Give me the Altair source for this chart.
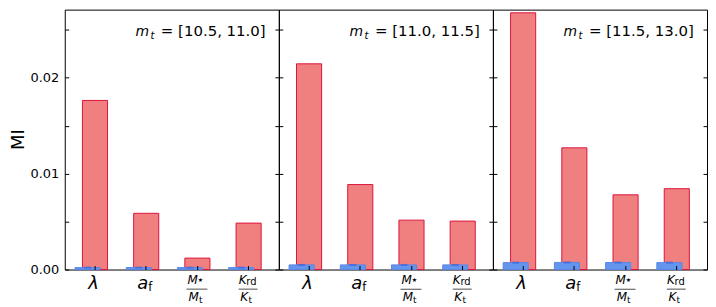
import altair as alt
import pandas as pd

# ---------------- data ----------------
categories = ["lambda", "a_f", "Mstar_Mt", "Krd_Kt"]
mass_bins = ["[10.5, 11.0]", "[11.0, 11.5]", "[11.5, 13.0]"]
mi_true = [
    [0.01763, 0.00586, 0.00119, 0.00484],
    [0.02145, 0.00886, 0.00515, 0.00505],
    [0.02677, 0.01269, 0.00779, 0.00843],
]
mi_shuffled = [
    [0.00020, 0.00020, 0.00020, 0.00020],
    [0.00048, 0.00048, 0.00048, 0.00048],
    [0.00072, 0.00074, 0.00073, 0.00072],
]
y_tick_values = [0.0, 0.005, 0.01, 0.015, 0.02, 0.025]
x_tick_values = [0, 1, 2, 3]
label_main = ["λ", "a", "M", "K"]
label_sub = ["", "f", "★", "rd"]
label_den = ["", "", "M", "K"]
label_den_sub = ["", "", "t", "t"]
y_title = ["MI"]
annot_var = "m"
annot_sub = "t"

# ---------------- style ----------------
FONT = "DejaVu Sans"
W, H = 215, 261
YMAX = 0.0271
XDOM = [-0.58, 3.6]
RED_FILL, RED_EDGE = "#F08080", "#DC143C"
BLUE_FILL, BLUE_EDGE, BLUE_ERR = "#6495ED", "#5b86e5", "#3d63d8"


def panel(p):
    df = pd.DataFrame({
        "idx": list(range(len(categories))),
        "cat": categories,
        "red": mi_true[p],
        "blue": mi_shuffled[p],
    })
    base = alt.Chart(df)
    xs = alt.Scale(domain=XDOM, nice=False, zero=False)
    ys = alt.Scale(domain=[0, YMAX], nice=False)

    left_axis = dict(orient="left", values=y_tick_values, offset=-4, tickSize=4,
                     tickColor="black", tickWidth=1, domain=False, grid=False,
                     zindex=1, labels=(p == 0), title="")
    if p == 0:
        left_axis.update(
            labelExpr="round(datum.value*200) % 2 == 0 ? format(datum.value, '.2f') : ''",
            labelFont=FONT, labelFontSize=13, labelColor="black", labelPadding=6)

    red = base.transform_calculate(
        x0="datum.idx - 0.235", x1="datum.idx + 0.255"
    ).mark_bar(color=RED_FILL, stroke=RED_EDGE, strokeWidth=1).encode(
        x=alt.X("x0:Q", scale=xs,
                axis=alt.Axis(orient="bottom", values=x_tick_values, labels=False,
                              title="", offset=-4, tickSize=4, tickColor="black",
                              domain=False, grid=False, zindex=1)),
        x2="x1:Q",
        y=alt.Y("red:Q", scale=ys, axis=alt.Axis(**left_axis)),
        y2=alt.datum(0),
    )

    blue = base.transform_calculate(
        x0="datum.idx - 0.38", x1="datum.idx + 0.11"
    ).mark_bar(color=BLUE_FILL, stroke=BLUE_EDGE, strokeWidth=1).encode(
        x=alt.X("x0:Q", scale=xs, axis=None),
        x2="x1:Q",
        y=alt.Y("blue:Q", scale=ys,
                axis=alt.Axis(orient="right", values=y_tick_values, labels=False,
                              title="", offset=-4, tickSize=4, tickColor="black",
                              domain=False, grid=False, zindex=1)),
        y2=alt.datum(0),
    )

    err = base.transform_calculate(xc="datum.idx - 0.135").mark_tick(
        orient="horizontal", size=7, thickness=2, color=BLUE_ERR
    ).encode(
        x=alt.X("xc:Q", scale=xs, axis=None),
        y=alt.Y("blue:Q", scale=ys, axis=None),
    )

    def txt(i, text, dx, dy, size, style="normal", align="center"):
        return base.transform_filter(alt.datum.idx == i).mark_text(
            text=text, dx=dx, font=FONT, fontSize=size, fontStyle=style,
            align=align, baseline="alphabetic", color="black"
        ).encode(x=alt.X("idx:Q", scale=xs, axis=None), y=alt.value(H + dy))

    def frac_bar(i, length, dy):
        return base.transform_filter(alt.datum.idx == i).mark_tick(
            orient="horizontal", size=length, thickness=1, color="black"
        ).encode(x=alt.X("idx:Q", scale=xs, axis=None), y=alt.value(H + dy))

    labels = [
        txt(0, label_main[0], -1, 19.5, 18, "italic"),
        txt(1, label_main[1], 2.5, 19.5, 18, "italic", "right"),
        txt(1, label_sub[1], 2.5, 21.5, 11.5, "normal", "left"),
        txt(2, label_main[2], 0.8, 14.5, 12, "italic", "right"),
        txt(2, label_sub[2], 0.8, 13, 6, "normal", "left"),
        frac_bar(2, 21, 19.7),
        txt(2, label_den[2], 2, 32, 12, "italic", "right"),
        txt(2, label_den_sub[2], 2, 34, 9, "normal", "left"),
        txt(3, label_main[3], -1.5, 14.5, 12, "italic", "right"),
        txt(3, label_sub[3], -1.8, 16, 10, "normal", "left"),
        frac_bar(3, 19, 19.7),
        txt(3, label_den[3], 0, 32, 12, "italic", "right"),
        txt(3, label_den_sub[3], 0.3, 34, 9, "normal", "left"),
    ]

    ann_df = pd.DataFrame({"bin": [mass_bins[p]]})
    ann_base = alt.Chart(ann_df)
    ann = [
        ann_base.mark_text(text=annot_var, font=FONT, fontSize=14, fontStyle="italic",
                           align="left", baseline="alphabetic", color="black"
                           ).encode(x=alt.value(71), y=alt.value(26)),
        ann_base.mark_text(text=annot_sub, font=FONT, fontSize=10, fontStyle="italic",
                           align="left", baseline="alphabetic", color="black"
                           ).encode(x=alt.value(86), y=alt.value(29)),
        ann_base.transform_calculate(t="'= ' + datum.bin").mark_text(
            font=FONT, fontSize=15, align="left", baseline="alphabetic", color="black"
        ).encode(text="t:N", x=alt.value(96.5), y=alt.value(26)),
    ]

    layers = [red, blue, err, *labels, *ann]
    if p == 0:
        title = alt.Chart(pd.DataFrame({"t": y_title})).mark_text(
            font=FONT, fontSize=18, angle=270, align="center", baseline="middle",
            color="black"
        ).encode(text="t:N", x=alt.value(-46), y=alt.value(H / 2))
        layers.append(title)

    return alt.layer(*layers).resolve_axis(
        x="independent", y="independent"
    ).properties(width=W, height=H)


chart = alt.hconcat(*[panel(p) for p in range(3)], spacing=0, bounds="flush",
                    padding={"left": 1, "top": 0, "right": 0, "bottom": 0}
                    ).configure_view(stroke="black", strokeWidth=1)

chart.save("out.html", embed_options={"renderer": "svg", "actions": False})
